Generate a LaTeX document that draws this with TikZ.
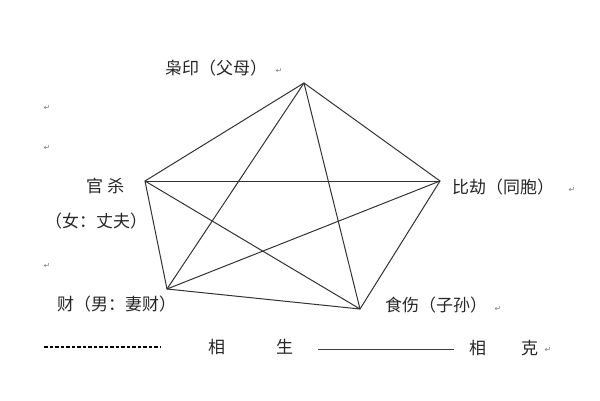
\documentclass[tikz,border=0pt]{standalone}
\usepackage{fontspec}
\setmainfont{Noto Sans CJK SC}
\newfontfamily\retfont{DejaVu Sans}
\begin{document}
\begin{tikzpicture}[x=1pt,y=-1pt,
    lbl/.style={font=\fontsize{17}{17}\selectfont, text=black!85, inner sep=0pt},
    retmk/.style={font=\retfont\fontsize{8}{8}\selectfont, text=black!50, inner sep=0pt},
    edge/.style={draw=black!80, line width=1pt}]
            \useasboundingbox (0,0) rectangle (600,400);
            \coordinate (yin) at (304,83);
            \coordinate (guan) at (145,181);
            \coordinate (bi) at (440,181);
            \coordinate (cai) at (167,289);
            \coordinate (shi) at (360,309);
            \draw[edge] (yin) -- (bi) -- (shi) -- (cai) -- (guan) -- cycle;
            \draw[edge] (yin) -- (cai);
            \draw[edge] (yin) -- (shi);
            \draw[edge] (guan) -- (bi);
            \draw[edge] (guan) -- (shi);
            \draw[edge] (bi) -- (cai);
            \node[lbl, anchor=west] (yinlbl) at (165,68) {枭印（父母）};
            \node[lbl, anchor=west] (guanlbl) at (86,186) {官\hspace{0.25em}杀};
            \node[lbl, anchor=west] (nvlbl) at (45,221) {（女：丈夫）};
            \node[lbl, anchor=west] (bilbl) at (452,187) {比劫（同胞）};
            \node[lbl, anchor=west] (cailbl) at (57,304) {财（男：妻财）};
            \node[lbl, anchor=west] (shilbl) at (385,305) {食伤（子孙）};
            \node[retmk] (r1) at (279,71) {↵};
            \node[retmk] (r2) at (47,108) {↵};
            \node[retmk] (r3) at (47,148) {↵};
            \node[retmk] (r4) at (572,190) {↵};
            \node[retmk] (r5) at (47,266) {↵};
            \node[retmk] (r6) at (498,309) {↵};
            % legend
            \coordinate (dsA) at (44,347);
            \coordinate (dsB) at (160,347);
            \coordinate (slA) at (318,349);
            \coordinate (slB) at (454,349);
            \draw[black, line width=1.2pt, dash pattern=on 3.5pt off 2pt] (dsA) -- (dsB);
            \draw[black!75, line width=0.9pt] (slA) -- (slB);
            \node[lbl, anchor=west] (sheng) at (208,347) {相\hspace{51pt}生};
            \node[lbl, anchor=west] (ke) at (469,348) {相\hspace{35pt}克};
            \node[retmk] (r7) at (548,350) {↵};
\end{tikzpicture}
\end{document}
